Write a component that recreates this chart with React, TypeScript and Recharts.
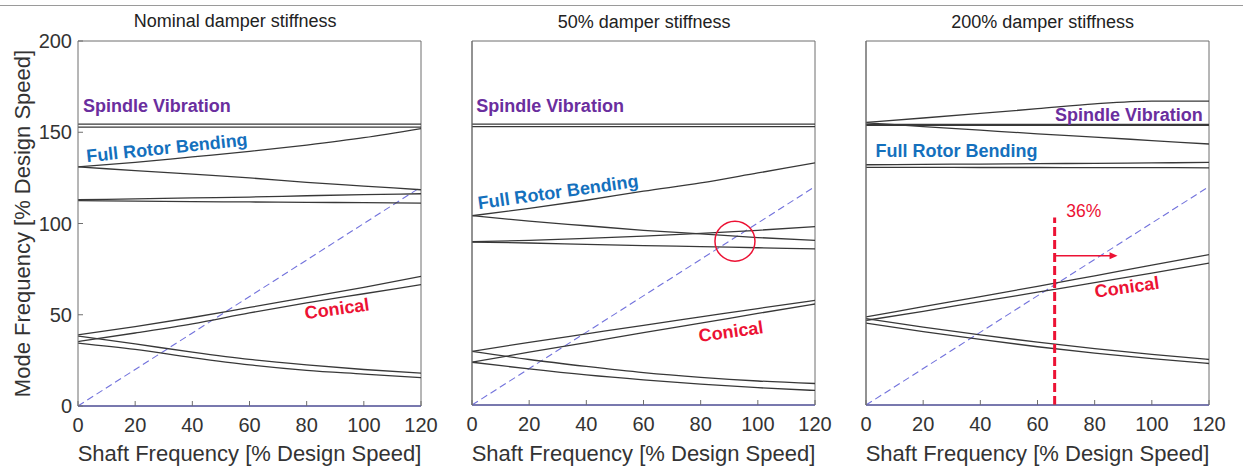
import {
  LineChart,
  Line,
  XAxis,
  YAxis,
  ReferenceLine,
  ReferenceDot,
} from "recharts";

const FONT = '"Liberation Sans", Arial, Helvetica, sans-serif';

// shaft speed samples (% design speed)
const speed = [0, 20, 40, 60, 80, 100, 120];
const speedTicks = [0, 20, 40, 60, 80, 100, 120];
const freqTicks = [0, 50, 100, 150, 200];

// 1x synchronous line
const syncSpeed = [0, 120];
const syncFreq = [0, 120];

// nominal damper stiffness
const nomSpindleA = [154.5, 154.5, 154.5, 154.5, 154.5, 154.5, 154.5];
const nomSpindleB = [152.8, 152.8, 152.8, 152.8, 152.8, 152.8, 152.8];
const nomBendFwd = [131, 133.5, 136.5, 139.5, 143, 147, 152];
const nomBendBwd = [131, 129, 127, 125, 122.5, 120.5, 118.5];
const nomMidFwd = [113, 113.5, 114, 114.5, 115.2, 115.8, 116.3];
const nomMidBwd = [112.5, 112.3, 112, 111.8, 111.6, 111.4, 111.2];
const nomConAFwd = [39, 43.5, 48.5, 54, 59.5, 65, 71];
const nomConBFwd = [35.3, 40, 45, 51, 56.5, 61.5, 66.5];
const nomConABwd = [38.3, 34, 29.5, 25.5, 22.5, 20, 18];
const nomConBBwd = [34.5, 31, 26.5, 22.5, 19.5, 17.5, 15.5];

// 50% damper stiffness
const halfSpindleA = [154.3, 154.3, 154.3, 154.3, 154.3, 154.3, 154.3];
const halfSpindleB = [152.9, 152.9, 152.9, 152.9, 152.9, 152.9, 152.9];
const halfBendFwd = [104, 108, 112.5, 117.5, 122, 127.5, 133];
const halfBendBwd = [104, 101, 98.5, 96, 94, 92, 90.5];
const halfMidFwd = [89.7, 90.5, 91.5, 92.8, 94.3, 96, 98];
const halfMidBwd = [89.5, 89, 88.3, 87.6, 87, 86.4, 85.8];
const halfConAFwd = [29.5, 34.4, 39.1, 43.8, 48.4, 53, 57.5];
const halfConBFwd = [23.5, 29, 34.3, 39.8, 45, 50.3, 55.5];
const halfConABwd = [29.5, 25, 21.2, 17.8, 15.2, 13.2, 11.8];
const halfConBBwd = [23.5, 19.8, 16.5, 13.8, 11.5, 9.5, 8];
const halfCircle = { x: 92, y: 90 };

// 200% damper stiffness
const dblSpindleFwd = [155.3, 157.7, 160.2, 162.8, 165.5, 167, 167];
const dblSpindleA = [154.2, 154.2, 154.2, 154.2, 154.2, 154.2, 154.2];
const dblSpindleB = [153.6, 153.6, 153.6, 153.6, 153.6, 153.6, 153.6];
const dblBendBwd = [155, 153, 151, 149, 147.2, 145.3, 143.4];
const dblMidFwd = [132, 132.2, 132.4, 132.6, 132.8, 133, 133.3];
const dblMidBwd = [130.6, 130.6, 130.5, 130.5, 130.4, 130.4, 130.3];
const dblConAFwd = [48.4, 54, 59.6, 65.2, 71, 76.8, 82.6];
const dblConBFwd = [46.5, 51.5, 56.8, 62, 67.2, 72.5, 78];
const dblConABwd = [47.5, 42.8, 38.5, 34.5, 31, 27.8, 25];
const dblConBBwd = [45, 40.3, 36, 32, 28.5, 25.5, 22.8];
const dblMargin = { speed: 66, top: 103, arrowY: 82, arrowEnd: 88 };

const pts = (xs: number[], ys: number[]) => xs.map((x, i) => ({ x, y: ys[i] }));

const PURPLE = "#6a2e9e";
const BLUE = "#1470bd";
const RED = "#ec1234";
const FRAME = "#6e6e6e";

const note = (
  key: string,
  x: number,
  y: number,
  text: string,
  color: string,
  rot = 0,
  size = 18,
  weight = "bold"
) => (
  <ReferenceDot
    key={key}
    x={x}
    y={y}
    ifOverflow="visible"
    shape={(p: any) => (
      <text
        x={p.cx}
        y={p.cy}
        textAnchor="middle"
        dominantBaseline="central"
        transform={`rotate(${rot} ${p.cx} ${p.cy})`}
        fill={color}
        fontSize={size}
        fontWeight={weight}
        fontFamily={FONT}
      >
        {text}
      </text>
    )}
  />
);

interface PanelProps {
  left: number;
  width: number;
  margin: { top: number; right: number; bottom: number; left: number };
  xHeight: number;
  showY: boolean;
  curves: number[][];
  children?: any;
}

const Panel = ({ left, width, margin, xHeight, showY, curves, children }: PanelProps) => (
  <div style={{ position: "absolute", left, top: 0 }}>
    <LineChart width={width} height={468} margin={margin}>
      <XAxis
        type="number"
        dataKey="x"
        domain={[0, 120]}
        ticks={speedTicks}
        allowDataOverflow
        height={xHeight}
        stroke={FRAME}
        tickSize={-5}
        tickMargin={17}
        tick={{ fill: "#333", fontSize: 20, fontFamily: FONT }}
        label={{
          value: "Shaft Frequency [% Design Speed]",
          position: "insideBottom",
          offset: 7,
          fill: "#333",
          fontSize: 22,
          fontFamily: FONT,
        }}
      />
      <YAxis
        type="number"
        domain={[0, 200]}
        ticks={freqTicks}
        allowDataOverflow
        width={showY ? 78 : 1}
        stroke={FRAME}
        tickSize={-5}
        tickMargin={11}
        tick={showY ? { fill: "#333", fontSize: 20, fontFamily: FONT } : false}
        label={
          showY
            ? {
                value: "Mode Frequency [% Design Speed]",
                angle: -90,
                position: "insideLeft",
                offset: 22,
                fill: "#333",
                fontSize: 22,
                fontFamily: FONT,
                style: { textAnchor: "middle" },
              }
            : undefined
        }
      />
      {/* box edges on top and right */}
      <ReferenceLine y={200} stroke={FRAME} ifOverflow="visible" />
      <ReferenceLine x={120} stroke={FRAME} ifOverflow="visible" />
      {!showY && <ReferenceLine x={0} stroke={FRAME} ifOverflow="visible" />}
      <ReferenceLine y={0} stroke="#5a5ae8" strokeWidth={1.5} />
      <Line
        data={pts(syncSpeed, syncFreq)}
        dataKey="y"
        type="linear"
        stroke="#7272dc"
        strokeWidth={1.1}
        strokeDasharray="7 4"
        dot={false}
        isAnimationActive={false}
      />
      {curves.map((c, i) => (
        <Line
          key={i}
          data={pts(speed, c)}
          dataKey="y"
          type="monotone"
          stroke="#383838"
          strokeWidth={1.3}
          dot={false}
          isAnimationActive={false}
        />
      ))}
      {children}
    </LineChart>
  </div>
);

export default function App() {
  return (
    <div
      style={{
        position: "absolute",
        left: 0,
        top: 0,
        width: 1243,
        height: 468,
        background: "#fff",
        fontFamily: FONT,
      }}
    >
      <div
        style={{
          position: "absolute",
          left: 0,
          top: 5,
          width: 1243,
          height: 0,
          borderTop: "1px solid #9a9a9a",
        }}
      />
      <Panel
        left={0}
        width={445}
        margin={{ top: 41, right: 24, bottom: 0, left: 0 }}
        xHeight={62}
        showY
        curves={[
          nomSpindleA,
          nomSpindleB,
          nomBendFwd,
          nomBendBwd,
          nomMidFwd,
          nomMidBwd,
          nomConAFwd,
          nomConBFwd,
          nomConABwd,
          nomConBBwd,
        ]}
      >
        {note("t1", 55, 211, "Nominal damper stiffness", "#222", 0, 18, "normal")}
        {note("s1", 27.6, 164.4, "Spindle Vibration", PURPLE)}
        {note("b1", 31.1, 141.4, "Full Rotor Bending", BLUE, -6)}
        {note("c1", 90.6, 53.2, "Conical", RED, -8)}
      </Panel>
      <Panel
        left={445}
        width={395}
        margin={{ top: 41, right: 25, bottom: 0, left: 26 }}
        xHeight={63}
        showY={false}
        curves={[
          halfSpindleA,
          halfSpindleB,
          halfBendFwd,
          halfBendBwd,
          halfMidFwd,
          halfMidBwd,
          halfConAFwd,
          halfConBFwd,
          halfConABwd,
          halfConBBwd,
        ]}
      >
        {note("t2", 60.2, 210.7, "50% damper stiffness", "#222", 0, 18, "normal")}
        {note("s2", 27.3, 164.1, "Spindle Vibration", PURPLE)}
        {note("b2", 30.1, 117, "Full Rotor Bending", BLUE, -8)}
        {note("c2", 90.6, 40.3, "Conical", RED, -8)}
        <ReferenceDot
          x={halfCircle.x}
          y={halfCircle.y}
          r={20}
          fill="none"
          stroke={RED}
          strokeWidth={1.5}
        />
      </Panel>
      <Panel
        left={840}
        width={403}
        margin={{ top: 41, right: 34, bottom: 0, left: 25 }}
        xHeight={63}
        showY={false}
        curves={[
          dblSpindleFwd,
          dblSpindleA,
          dblSpindleB,
          dblBendBwd,
          dblMidFwd,
          dblMidBwd,
          dblConAFwd,
          dblConBFwd,
          dblConABwd,
          dblConBBwd,
        ]}
      >
        {note("t3", 61.8, 210.7, "200% damper stiffness", "#222", 0, 18, "normal")}
        {note("s3", 92, 159.5, "Spindle Vibration", PURPLE)}
        {note("b3", 31.7, 139.7, "Full Rotor Bending", BLUE)}
        {note("c3", 91.3, 64.7, "Conical", RED, -8)}
        {note("p3", 76.2, 106.8, "36%", RED, 0, 17.5, "normal")}
        <ReferenceLine
          segment={[
            { x: dblMargin.speed, y: 0 },
            { x: dblMargin.speed, y: dblMargin.top },
          ]}
          stroke={RED}
          strokeWidth={3}
          strokeDasharray="9 4"
        />
        <ReferenceLine
          segment={[
            { x: dblMargin.speed, y: dblMargin.arrowY },
            { x: dblMargin.arrowEnd - 2, y: dblMargin.arrowY },
          ]}
          stroke={RED}
          strokeWidth={1.3}
        />
        <ReferenceDot
          x={dblMargin.arrowEnd}
          y={dblMargin.arrowY}
          ifOverflow="visible"
          shape={(p: any) => (
            <polygon
              points={`${p.cx},${p.cy} ${p.cx - 8},${p.cy - 3.5} ${p.cx - 8},${p.cy + 3.5}`}
              fill={RED}
            />
          )}
        />
      </Panel>
    </div>
  );
}
